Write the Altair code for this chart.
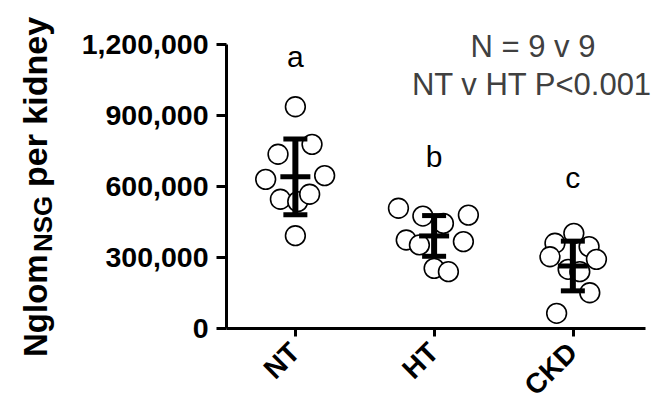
import altair as alt
import pandas as pd

groups = ["NT", "HT", "CKD"]
nt_values = [935000, 776000, 734000, 628000, 644000, 544000, 534000, 565000, 390000]
nt_offsets = [0.0, 0.12, -0.125, -0.214, 0.211, -0.108, 0.017, 0.103, 0.0]
ht_values = [506000, 473000, 442000, 477000, 372000, 351000, 365000, 252000, 238000]
ht_offsets = [-0.257, -0.081, 0.067, 0.247, -0.201, -0.106, 0.211, 0.0, 0.103]
ckd_values = [400000, 358000, 344000, 301000, 290000, 248000, 238000, 149000, 62000]
ckd_offsets = [0.007, -0.129, 0.117, -0.165, 0.17, -0.034, 0.05, 0.122, -0.117]
means = [639000, 389000, 262000]
sds = [160000, 86000, 105000]
letters = ["a", "b", "c"]
letter_y = [1103000, 680000, 591000]
y_ticks = [0, 300000, 600000, 900000, 1200000]

rows = []
for gi, (vals, offs) in enumerate([(nt_values, nt_offsets), (ht_values, ht_offsets), (ckd_values, ckd_offsets)]):
    for v, o in zip(vals, offs):
        rows.append({"group": groups[gi], "pos": gi + 1 + o, "value": v})
points_df = pd.DataFrame(rows)

summary_df = pd.DataFrame({
    "group": groups,
    "pos": [1, 2, 3],
    "mean": means,
    "lo": [m - s for m, s in zip(means, sds)],
    "hi": [m + s for m, s in zip(means, sds)],
    "letter": letters,
    "ly": letter_y,
})

label_expr = " : ".join(
    [f"datum.value == {i + 1} ? '{g}'" for i, g in enumerate(groups[:-1])] + [f"'{groups[-1]}'"]
)

FONT = "Liberation Sans"

xscale = alt.Scale(domain=[0.5, 3.52], nice=False, zero=False)
yscale = alt.Scale(domain=[0, 1200000], nice=False)

x_axis = alt.Axis(
    values=[1, 2, 3], labelExpr=label_expr, title=None, grid=False,
    labelAngle=-45, labelAlign="right", labelBaseline="middle",
    labelFont=FONT, labelFontWeight="bold", labelFontSize=28, labelColor="black",
    labelPadding=12, tickSize=8, tickWidth=3, tickColor="black",
    domainWidth=3, domainColor="black", labelOverlap=False, labelBound=False,
)
y_axis = alt.Axis(
    values=y_ticks, labelExpr="format(datum.value, ',.0f')", title=None, grid=False,
    labelFont=FONT, labelFontWeight="bold", labelFontSize=28.5, labelColor="black",
    labelPadding=8, tickSize=10, tickWidth=3, tickColor="black",
    domainWidth=3, domainColor="black",
)

pts = alt.Chart(points_df).mark_point(
    shape="circle", filled=True, fill="white", stroke="black", strokeWidth=1.6, size=390, opacity=1
).encode(
    x=alt.X("pos:Q", scale=xscale, axis=x_axis),
    y=alt.Y("value:Q", scale=yscale, axis=y_axis),
)

base = alt.Chart(summary_df)
vrule = base.mark_rule(color="black", strokeWidth=6).encode(
    x=alt.X("pos:Q", scale=xscale), y=alt.Y("lo:Q", scale=yscale), y2="hi:Q"
)
cap_hi = base.mark_tick(color="black", orient="horizontal", size=24, thickness=5, opacity=1).encode(
    x=alt.X("pos:Q", scale=xscale), y=alt.Y("hi:Q", scale=yscale)
)
cap_lo = base.mark_tick(color="black", orient="horizontal", size=24, thickness=5, opacity=1).encode(
    x=alt.X("pos:Q", scale=xscale), y=alt.Y("lo:Q", scale=yscale)
)
mean_line = base.mark_tick(color="black", orient="horizontal", size=30, thickness=5, opacity=1).encode(
    x=alt.X("pos:Q", scale=xscale), y=alt.Y("mean:Q", scale=yscale)
)
letter_txt = base.mark_text(font=FONT, fontSize=30, color="black", baseline="alphabetic").encode(
    x=alt.X("pos:Q", scale=xscale), y=alt.Y("ly:Q", scale=yscale), text="letter:N"
)

ann1 = alt.Chart(pd.DataFrame({"t": ["N = 9 v 9"]})).mark_text(
    font=FONT, fontSize=31, color="#404040", align="center", baseline="alphabetic"
).encode(x=alt.value(307), y=alt.value(13), text="t:N")
ann2 = alt.Chart(pd.DataFrame({"t": ["NT v HT P<0.001"]})).mark_text(
    font=FONT, fontSize=31, color="#404040", align="center", baseline="alphabetic"
).encode(x=alt.value(305.5), y=alt.value(51), text="t:N")

t1 = alt.Chart(pd.DataFrame({"t": ["Nglom"]})).mark_text(
    font=FONT, fontSize=33, fontWeight="bold", color="black", angle=270, align="left", baseline="alphabetic"
).encode(x=alt.value(-179), y=alt.value(313), text="t:N")
t2 = alt.Chart(pd.DataFrame({"t": ["NSG"]})).mark_text(
    font=FONT, fontSize=26, fontWeight="bold", color="black", angle=270, align="left", baseline="alphabetic"
).encode(x=alt.value(-174), y=alt.value(208), text="t:N")
t3 = alt.Chart(pd.DataFrame({"t": ["per kidney"]})).mark_text(
    font=FONT, fontSize=34, fontWeight="bold", color="black", angle=270, align="left", baseline="alphabetic"
).encode(x=alt.value(-179), y=alt.value(143), text="t:N")

chart = alt.layer(
    pts, vrule, cap_hi, cap_lo, mean_line, letter_txt, ann1, ann2, t1, t2, t3
).properties(
    width=419, height=284,
    autosize=alt.AutoSizeParams(type="none"),
    padding={"left": 226, "top": 44, "right": 19, "bottom": 79},
    background="white",
).configure_view(stroke=None)

chart.save("out.html", embed_options={"renderer": "svg", "actions": False})
